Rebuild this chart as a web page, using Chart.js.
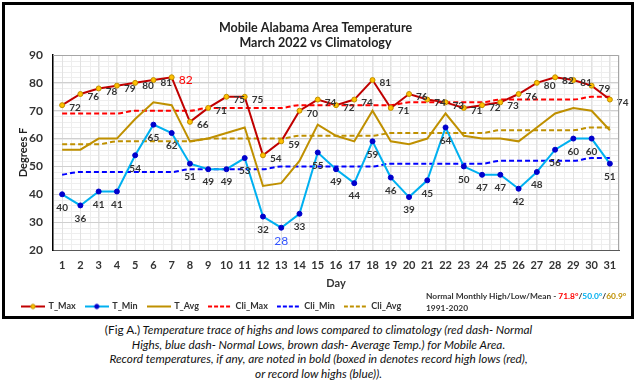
<!DOCTYPE html>
<html>
<head>
<meta charset="utf-8">
<script src="https://cdn.jsdelivr.net/npm/chart.js@4.4.1/dist/chart.umd.min.js"></script>
<style>
    body { margin: 0; background: #fff; font-family: Lato, "Open Sans", sans-serif; }
    #frame { position: absolute; left: 2px; top: 2px; width: 626px; height: 311px; border: 3px solid #000; }
    #chartBox { position: absolute; left: 5px; top: 5px; width: 626px; height: 316px; }
    #normals { position: absolute; left: 426px; top: 290px; font-size: 8.4px; font-weight: bold; color: #333; line-height: 12px; white-space: nowrap; }
    #caption { position: absolute; left: 0; top: 323px; width: 637px; text-align: center; font-size: 11.8px; line-height: 14.5px; color: #111; font-style: italic; }
    #caption .lead { font-style: normal; }
</style>
</head>
<body>
<div id="frame"></div>
<div id="chartBox"><canvas id="tempChart"></canvas></div>
<div id="normals">
    Normal Monthly High/Low/Mean - <span style="color:#ff0000">71.8°</span>/<span style="color:#00b0f0">50.0°</span>/<span style="color:#bf9000">60.9°</span><br>
    1991-2020
</div>
<div id="caption">
    <span class="lead">(Fig A.)</span> Temperature trace of highs and lows compared to climatology (red dash- Normal<br>
    Highs, blue dash- Normal Lows, brown dash- Average Temp.) for Mobile Area.<br>
    Record temperatures, if any, are noted in bold (boxed in denotes record high lows (red),<br>
    or record low highs (blue)).
</div>

<script>
const days = ['1', '2', '3', '4', '5', '6', '7', '8', '9', '10', '11', '12', '13', '14', '15', '16',
    '17', '18', '19', '20', '21', '22', '23', '24', '25', '26', '27', '28', '29', '30', '31'];

const tMax = [72, 76, 78, 79, 80, 81, 82, 66, 71, 75, 75, 54, 59, 70, 74, 72,
    74, 81, 71, 76, 74, 73, 71, 72, 73, 76, 80, 82, 81, 79, 74];
const tMin = [40, 36, 41, 41, 54, 65, 62, 51, 49, 49, 53, 32, 28, 33, 55, 49,
    44, 59, 46, 39, 45, 64, 50, 47, 47, 42, 48, 56, 60, 60, 51];
const tAvg = [56, 56, 60, 60, 67, 73, 72, 59, 60, 62, 64, 43, 44, 52, 65, 61,
    59, 70, 59, 58, 60, 69, 61, 60, 60, 59, 64, 69, 71, 70, 63];

const cliMax = [69, 69, 69, 69, 70, 70, 70, 70, 71, 71, 71, 71, 71, 72, 72, 72,
    72, 72, 72, 73, 73, 73, 73, 73, 74, 74, 74, 74, 74, 75, 75];
const cliMin = [47, 48, 48, 48, 48, 48, 48, 49, 49, 49, 49, 49, 50, 50, 50, 50,
    50, 50, 51, 51, 51, 51, 51, 51, 52, 52, 52, 52, 52, 53, 53];
const cliAvg = [58, 58, 58, 59, 59, 59, 59, 59, 60, 60, 60, 60, 60, 61, 61, 61,
    61, 61, 62, 62, 62, 62, 62, 62, 63, 63, 63, 63, 63, 64, 64];

// record values get their own colour
const recordHighDay = 6;   // index of day 7
const recordLowDay = 12;   // index of day 13

const FONT = 'Lato, "Open Sans", sans-serif';
const TEXT = '#333';

// small line + marker icons for the legend
function legendIcon(color, dash, dotFill, dotStroke) {
    const c = document.createElement('canvas');
    c.width = 24;
    c.height = 8;
    const g = c.getContext('2d');
    g.strokeStyle = color;
    g.lineWidth = 2;
    g.setLineDash(dash);
    g.beginPath();
    g.moveTo(0, 4);
    g.lineTo(24, 4);
    g.stroke();
    if (dotFill) {
        g.setLineDash([]);
        g.fillStyle = dotFill;
        g.strokeStyle = dotStroke;
        g.lineWidth = 1;
        g.beginPath();
        g.arc(12, 4, 2.2, 0, Math.PI * 2);
        g.fill();
        g.stroke();
    }
    return c;
}

const icons = [
    legendIcon('#c00000', [], '#ffc000', '#bf8f00'),
    legendIcon('#00b0f0', [], '#0000cc', '#0000cc'),
    legendIcon('#bf9000', []),
    legendIcon('#ff0000', [4, 2]),
    legendIcon('#0000ff', [4, 2]),
    legendIcon('#bf9000', [4, 2])
];

const minorGrid = {
    id: 'minorGrid',
    beforeDraw(chart) {
        const { ctx, chartArea: a, scales: { x, y } } = chart;
        ctx.save();
        ctx.strokeStyle = '#eeeeee';
        ctx.lineWidth = 1;
        ctx.beginPath();
        for (let v = y.min; v <= y.max; v += 2) {
            const py = Math.round(y.getPixelForValue(v)) + 0.5;
            ctx.moveTo(a.left, py);
            ctx.lineTo(a.right, py);
        }
        for (let i = -0.5; i <= days.length - 0.5; i += 0.5) {
            const px = Math.round(x.getPixelForValue(i)) + 0.5;
            ctx.moveTo(px, a.top);
            ctx.lineTo(px, a.bottom);
        }
        ctx.stroke();
        ctx.restore();
    },
    afterDraw(chart) {
        const { ctx, chartArea: a } = chart;
        ctx.save();
        ctx.strokeStyle = '#a6a6a6';
        ctx.lineWidth = 1;
        ctx.beginPath();
        ctx.moveTo(a.left, a.top + 0.5);
        ctx.lineTo(a.right - 0.5, a.top + 0.5);
        ctx.lineTo(a.right - 0.5, a.bottom);
        ctx.stroke();
        ctx.restore();
    }
};

const pointLabels = {
    id: 'pointLabels',
    afterDatasetsDraw(chart) {
        const ctx = chart.ctx;
        ctx.save();
        ctx.textBaseline = 'middle';

        chart.getDatasetMeta(0).data.forEach((pt, i) => {
            if (i === recordHighDay) {
                ctx.font = '12px ' + FONT;
                ctx.fillStyle = '#ff0000';
            } else {
                ctx.font = 'bold 10px ' + FONT;
                ctx.fillStyle = TEXT;
            }
            ctx.textAlign = 'left';
            ctx.fillText(tMax[i], pt.x + 7, pt.y + 3);
        });

        chart.getDatasetMeta(1).data.forEach((pt, i) => {
            if (i === recordLowDay) {
                ctx.font = '12px ' + FONT;
                ctx.fillStyle = '#3355ff';
            } else {
                ctx.font = 'bold 10px ' + FONT;
                ctx.fillStyle = TEXT;
            }
            ctx.textAlign = 'center';
            ctx.fillText(tMin[i], pt.x, pt.y + 13);
        });
        ctx.restore();
    }
};

new Chart(document.getElementById('tempChart'), {
    type: 'line',
    data: {
        labels: days,
        datasets: [
            {
                label: 'T_Max',
                data: tMax,
                borderColor: '#c00000',
                borderWidth: 2,
                pointRadius: 2.5,
                pointBackgroundColor: '#ffc000',
                pointBorderColor: '#bf8f00',
                pointBorderWidth: 1
            },
            {
                label: 'T_Min',
                data: tMin,
                borderColor: '#00b0f0',
                borderWidth: 2,
                pointRadius: 2.5,
                pointBackgroundColor: '#0000cc',
                pointBorderColor: '#0000cc',
                pointBorderWidth: 1
            },
            {
                label: 'T_Avg',
                data: tAvg,
                borderColor: '#bf9000',
                borderWidth: 2,
                pointRadius: 0
            },
            {
                label: 'Cli_Max',
                data: cliMax,
                borderColor: '#ff0000',
                borderWidth: 2,
                borderDash: [5, 3],
                pointRadius: 0,
                cubicInterpolationMode: 'monotone'
            },
            {
                label: 'Cli_Min',
                data: cliMin,
                borderColor: '#0000ff',
                borderWidth: 2,
                borderDash: [5, 3],
                pointRadius: 0,
                cubicInterpolationMode: 'monotone'
            },
            {
                label: 'Cli_Avg',
                data: cliAvg,
                borderColor: '#bf9000',
                borderWidth: 2,
                borderDash: [5, 3],
                pointRadius: 0,
                cubicInterpolationMode: 'monotone'
            }
        ]
    },
    options: {
        responsive: true,
        maintainAspectRatio: false,
        animation: false,
        layout: { padding: { left: 7, right: 12, top: 0, bottom: 0 } },
        plugins: {
            title: {
                display: true,
                text: ['Mobile Alabama Area Temperature', 'March 2022 vs Climatology'],
                color: '#222',
                font: { family: FONT, size: 12.5, weight: 'bold', lineHeight: 1.2 },
                padding: { top: 15, bottom: 5 }
            },
            legend: {
                position: 'bottom',
                align: 'start',
                labels: {
                    usePointStyle: true,
                    pointStyleWidth: 22,
                    padding: 10,
                    color: TEXT,
                    font: { family: FONT, size: 9, weight: 'bold' },
                    generateLabels(chart) {
                        const items = Chart.defaults.plugins.legend.labels.generateLabels(chart);
                        items.forEach((item, i) => { item.pointStyle = icons[i]; });
                        return items;
                    }
                }
            },
            tooltip: { enabled: false }
        },
        scales: {
            x: {
                offset: true,
                afterFit(scale) { scale.height = 42; },
                grid: { color: '#e2e2e2', drawTicks: false },
                border: { color: '#595959', width: 1 },
                ticks: {
                    color: TEXT,
                    padding: 9,
                    font: { family: FONT, size: 11, weight: 'bold' },
                    autoSkip: false,
                    maxRotation: 0
                },
                title: {
                    display: true,
                    text: 'Day',
                    color: TEXT,
                    font: { family: FONT, size: 11, weight: 'bold' },
                    padding: { top: 0, bottom: 2 }
                }
            },
            y: {
                min: 20,
                max: 90,
                afterFit(scale) { scale.width = 41; },
                grid: { color: '#d0d0d0', drawTicks: false },
                border: { color: '#000', width: 1.5 },
                ticks: {
                    stepSize: 10,
                    color: TEXT,
                    padding: 10,
                    font: { family: FONT, size: 12, weight: 'bold' }
                },
                title: {
                    display: true,
                    text: 'Degrees F',
                    color: '#222',
                    font: { family: FONT, size: 11, weight: 'bold' },
                    padding: { top: 5, bottom: 0 }
                }
            }
        }
    },
    plugins: [minorGrid, pointLabels]
});
</script>
</body>
</html>
